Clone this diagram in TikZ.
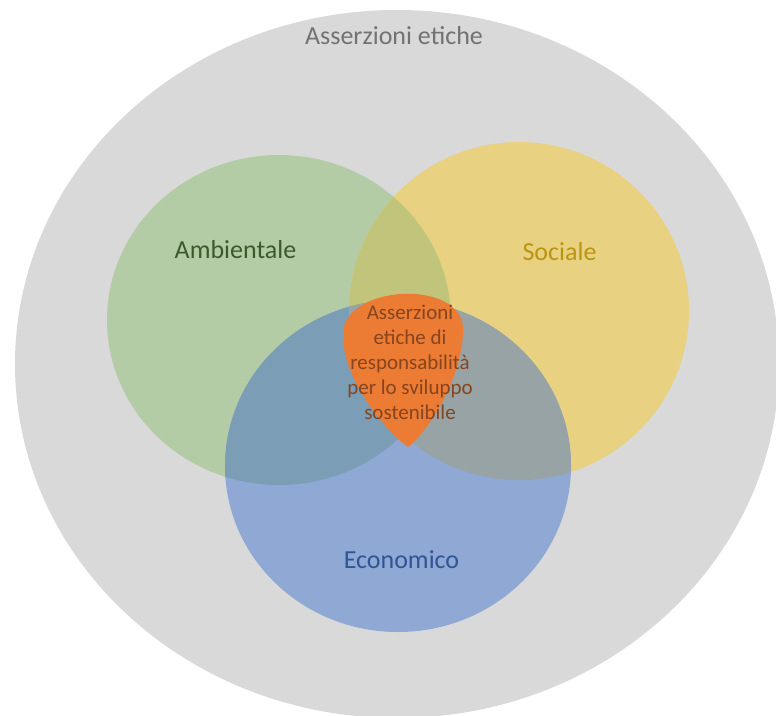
\documentclass[tikz,border=0pt]{standalone}
\usepackage{fontspec}
\setmainfont{Carlito}
\definecolor{cgray}{HTML}{D9D9D9}
\definecolor{cgreen}{HTML}{B3CCA6}
\definecolor{cyellow}{HTML}{E9D182}
\definecolor{cblue}{HTML}{8FA8D4}
\definecolor{cgy}{HTML}{C1C47B}
\definecolor{cgb}{HTML}{7B9EB6}
\definecolor{cyb}{HTML}{98A3A6}
\definecolor{corange}{HTML}{EC7C33}
\definecolor{tgray}{HTML}{727272}
\definecolor{tgreen}{HTML}{3B5A2B}
\definecolor{tyellow}{HTML}{BA9512}
\definecolor{tblue}{HTML}{2F5597}
\definecolor{tbrown}{HTML}{86441F}
\begin{document}
\begin{tikzpicture}[x=1pt,y=-1pt,
  lbl/.style={font=\fontsize{26}{30}\selectfont, inner sep=0pt, anchor=base},
  core/.style={font=\fontsize{21}{25}\selectfont, inner sep=0pt, align=center, text=tbrown}]
\useasboundingbox (0,0) rectangle (776,715);
\def\Gell{(279,320) ellipse [x radius=172, y radius=165]}
\def\Yell{(519,311) ellipse [x radius=170, y radius=169]}
\def\Bell{(398,466) ellipse [x radius=173, y radius=166]}
% outer set
\fill[cgray] (397,364) ellipse [x radius=382, y radius=354];
% single sets
\fill[cgreen] \Gell;
\fill[cyellow] \Yell;
\fill[cblue] \Bell;
% pairwise intersections
\begin{scope}
  \clip \Gell;
  \fill[cgy] \Yell;
  \fill[cgb] \Bell;
\end{scope}
\begin{scope}
  \clip \Yell;
  \fill[cyb] \Bell;
\end{scope}
% core (rounded teardrop over the triple intersection)
\fill[corange] (408,447) .. controls (385,430) and (343,380) .. (343,335)
  .. controls (342,284) and (464,278) .. (463,330)
  .. controls (463,375) and (430,430) .. (408,447) -- cycle;
% labels
\node[lbl, text=tgray] (title) at (394,44) {Asserzioni etiche};
\node[lbl, text=tgreen] (amb) at (235.5,258) {Ambientale};
\node[lbl, text=tyellow] (soc) at (559.5,260) {Sociale};
\node[lbl, text=tblue] (eco) at (401.5,568) {Economico};
\node[core] (resp) at (410,362) {Asserzioni\\etiche di\\responsabilità\\per lo sviluppo\\sostenibile};
\end{tikzpicture}
\end{document}
